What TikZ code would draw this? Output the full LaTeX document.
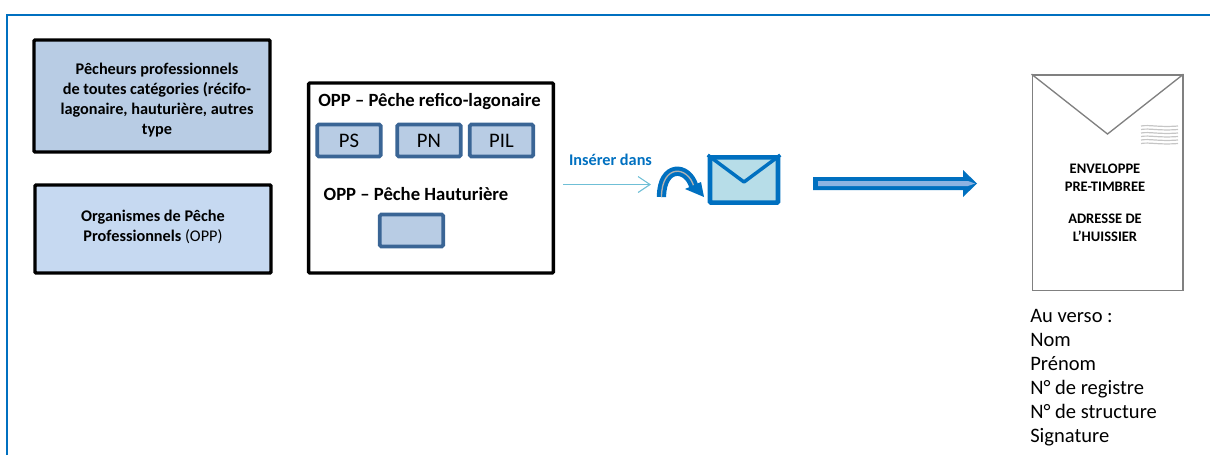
\documentclass[tikz,border=0pt]{standalone}
\usepackage{fontspec}
\setmainfont{Carlito}
\usetikzlibrary{%
	arrows.meta,%
	calc,%
	positioning
}
\definecolor{frameblue}{HTML}{0070C0}
\definecolor{boxdark}{HTML}{B8CCE4}
\definecolor{boxlight}{HTML}{C6D9F1}
\definecolor{tabborder}{HTML}{3A6595}
\definecolor{envfill}{HTML}{B7DDE8}
\definecolor{thinarrow}{HTML}{6FBFD6}
\definecolor{softblue}{HTML}{8DB3E2}
\tikzset{
	actorbox/.style={draw=black,line width=2.6pt,rounded corners=0.8pt,align=center,font=\fontsize{12.2}{15}\selectfont\bfseries,inner sep=0pt},
	tabbox/.style={draw=tabborder,fill=boxdark,line width=2.8pt,rounded corners=1pt,minimum width=47.5pt,minimum height=24pt,inner sep=0pt,font=\fontsize{15.5}{17}\selectfont},
	headtext/.style={font=\fontsize{14}{16}\selectfont\bfseries,inner sep=0pt},
	stampline/.style={gray!45,line width=0.9pt}
}
\begin{document}
\begin{tikzpicture}[x=0.75pt,y=-0.75pt]
	\useasboundingbox (0,0) rectangle (1210,455);

	% Outer frame
	\draw[frameblue,line width=1.5pt] (7,455) -- (7,15) -- (1210,15);

	% Boxes on the left
	\node[actorbox,fill=boxdark,minimum width=177pt,minimum height=84pt] (pecheurs) at (152,96) {};
	\node[font=\fontsize{12.2}{14.8}\selectfont\bfseries,align=center,inner sep=0pt] (pecheurstext) at (157,100)
		{Pêcheurs professionnels\\de toutes catégories (récifo-\\lagonaire, hauturière, autres\\type};
	\node[actorbox,fill=boxlight,minimum width=177pt,minimum height=66pt] (opp) at (153,229)
		{Organismes de Pêche\\Professionnels {\mdseries (OPP)}\\[-10.4pt]};

	% Middle box
	\node[draw=black,line width=2.6pt,rounded corners=0.8pt,minimum width=183.5pt,minimum height=142.5pt] (groupe) at (431,178) {};
	\node[headtext] (refico) at (429.5,101.5) {OPP – Pêche refico-lagonaire};
	\node[tabbox] (ps) at (349,140.5) {PS};
	\node[tabbox] (pn) at (429,140.5) {PN};
	\node[tabbox] (pil) at (501.5,140.5) {PIL};
	\node[headtext] (hauturiere) at (416,194.5) {OPP – Pêche Hauturière};
	\node[tabbox] (vide) at (411.5,230.5) {};

	% Insertion into the envelope
	\node[font=\fontsize{12.2}{14}\selectfont\bfseries,text=frameblue,inner sep=0pt] (inserer) at (610.5,159.5) {Insérer dans};
	\coordinate (debut) at (563,184.5);
	\coordinate (fin) at (651,184.5);
	\draw[thinarrow,line width=0.8pt,-{Straight Barb[length=9pt,width=12pt]}] (debut) -- (fin);

	\node[draw=frameblue,fill=envfill,line width=3.4pt,rounded corners=0.8pt,minimum width=51pt,minimum height=34pt,inner sep=0pt] (enveloppe) at (744,180) {};
	\draw[frameblue,line width=2.6pt,line join=round] (enveloppe.north west) -- ($(enveloppe.center)+(0,2)$) -- (enveloppe.north east);

	% Curved arrow
	\coordinate (courbeA) at (661.5,197);
	\coordinate (courbeB) at (694,187);
	\draw[frameblue,line width=7pt] (courbeA) .. controls (661.5,164) and (688,165) .. (courbeB);
	\draw[gray!60,line width=1pt] (courbeA) .. controls (661.5,164) and (688,165) .. (courbeB);
	\fill[frameblue] (685,189) -- (701,182) -- (704,197) -- cycle;

	% Big arrow
	\fill[frameblue] (813,177) -- (963,177) -- (963,170) -- (977,183.5) -- (963,197) -- (963,190) -- (813,190) -- cycle;
	\fill[softblue] (818,181) -- (968,181) -- (975,183.5) -- (968,186) -- (818,186) -- cycle;

	% Envelope seen from the front
	\node[draw=gray,line width=1pt,minimum width=113pt,minimum height=161.5pt,inner sep=0pt] (timbree) at (1107.5,182.5) {};
	\coordinate (pointe) at (1107.5,134);
	\draw[gray,line width=1pt] (timbree.north west) -- (pointe) -- (timbree.north east);
	\foreach \y in {126,129.5,133,136.5,140,143.5}
		\draw[stampline] (1141,\y) .. controls (1150,\y-1.5) and (1158,\y+1.5) .. (1178,\y);
	\node[font=\fontsize{10.9}{13.5}\selectfont\bfseries,align=center,inner sep=0pt] (adresse) at (1105,203)
		{ENVELOPPE\\PRE-TIMBREE\\[10.5pt]ADRESSE DE\\L’HUISSIER};

	% Back of the envelope
	\node[font=\fontsize{15.4}{18}\selectfont,align=left,anchor=north west,inner sep=0pt] (verso) at (1030,309)
		{Au verso :\\Nom\\Prénom\\N° de registre\\N° de structure\\Signature};
\end{tikzpicture}
\end{document}
